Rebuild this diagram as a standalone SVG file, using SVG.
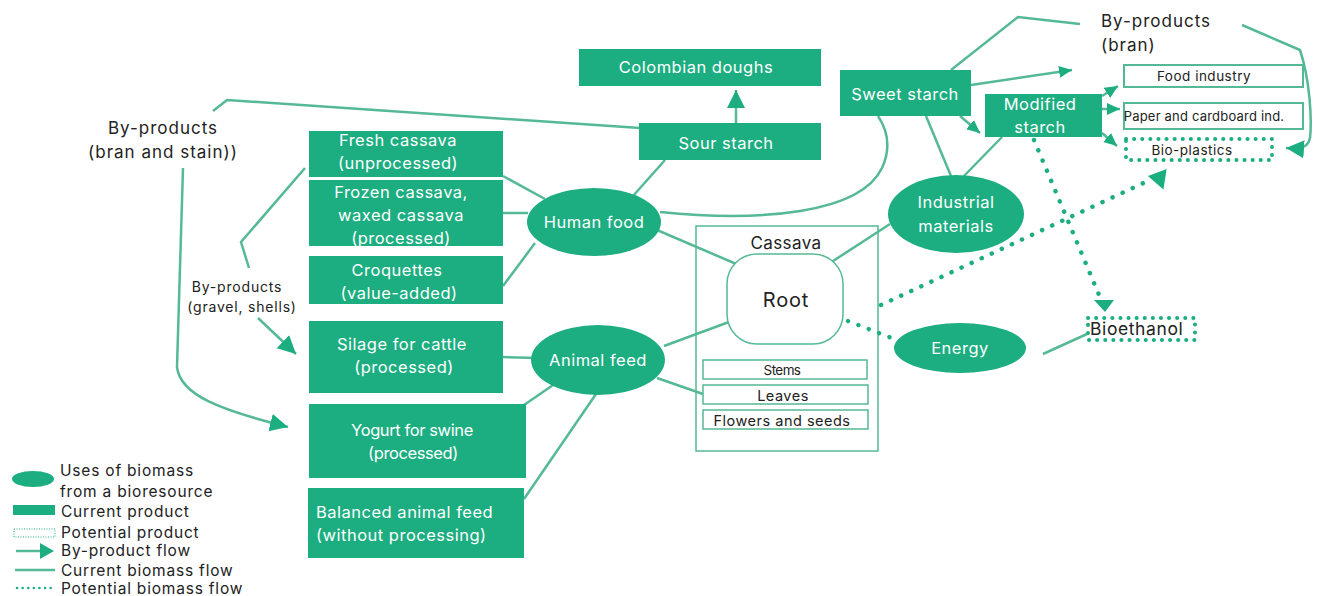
<svg xmlns="http://www.w3.org/2000/svg" width="1319" height="596" viewBox="0 0 1319 596">
  <defs>
    <style>
      text { font-family: Inter, "Liberation Sans", sans-serif; }
      .node { fill: #1cae80; }
      .wt { fill: #ffffff; font-size: 16.5px; text-anchor: middle; dominant-baseline: central; letter-spacing: 0.5px; }
      .bt { fill: #222222; font-size: 17px; dominant-baseline: central; letter-spacing: 1px; }
      .sm { fill: #222222; font-size: 13.5px; text-anchor: middle; dominant-baseline: central; letter-spacing: 0.5px; }
      .lg { fill: #222222; font-size: 15.5px; dominant-baseline: central; letter-spacing: 0.8px; }
      .box { fill: #ffffff; stroke: #55b995; stroke-width: 2; }
      .pot { fill: #ffffff; stroke: #1cae80; stroke-width: 4; stroke-dasharray: 0.1 8; stroke-linecap: round; }
      .flow { fill: none; stroke: #55b995; stroke-width: 2.5; }
      .dot { fill: none; stroke: #1cae80; stroke-width: 4.5; stroke-dasharray: 0.1 11; stroke-linecap: round; }
    </style>
    <marker id="arr" markerUnits="userSpaceOnUse" markerWidth="22" markerHeight="20" refX="18" refY="9" orient="auto">
      <path d="M0,0 L18,9 L0,18 Z" fill="#1cae80"/>
    </marker>
    <marker id="arrS" markerUnits="userSpaceOnUse" markerWidth="16" markerHeight="14" refX="13" refY="6" orient="auto">
      <path d="M0,0 L13,6 L0,12 Z" fill="#1cae80"/>
    </marker>
  </defs>
  <rect width="1319" height="596" fill="#ffffff"/>

  <!-- cassava plant outline (drawn first so flows cross its border) -->
  <rect x="696" y="226" width="182" height="225" fill="none" stroke="#55b995" stroke-width="1.5"/>

  <!-- connectors -->
  <g id="connectors">
    <!-- human food links -->
    <line class="flow" x1="503" y1="176" x2="545" y2="199"/>
    <line class="flow" x1="503" y1="213" x2="528" y2="213"/>
    <line class="flow" x1="503" y1="286" x2="535" y2="243"/>
    <line class="flow" x1="633" y1="196" x2="665" y2="160"/>
    <line class="flow" x1="657" y1="230" x2="741" y2="266"/>
    <path class="flow" d="M660,212 C760,222 860,214 882,168 C892,146 886,128 878,116"/>
    <!-- animal feed links -->
    <line class="flow" x1="503" y1="357" x2="538" y2="358"/>
    <line class="flow" x1="556" y1="383" x2="524" y2="405"/>
    <line class="flow" x1="596" y1="394" x2="524" y2="499"/>
    <line class="flow" x1="664" y1="346" x2="729" y2="322"/>
    <line class="flow" x1="657" y1="378" x2="703" y2="394"/>
    <!-- industrial materials links -->
    <line class="flow" x1="830" y1="263" x2="890" y2="224"/>
    <line class="flow" x1="951" y1="176" x2="926" y2="116"/>
    <line class="flow" x1="963" y1="177" x2="1002" y2="137"/>
    <!-- starch chain -->
    <line class="flow" x1="736" y1="123" x2="736" y2="90" marker-end="url(#arr)"/>
    <line class="flow" x1="960" y1="116" x2="980" y2="133" marker-end="url(#arrS)"/>
    <line class="flow" x1="971" y1="85" x2="1072" y2="70" marker-end="url(#arrS)"/>
    <polyline class="flow" points="951,70 1018,17 1080,24"/>
    <line class="flow" x1="1102" y1="96" x2="1118" y2="86" marker-end="url(#arrS)"/>
    <line class="flow" x1="1102" y1="109" x2="1120" y2="109" marker-end="url(#arrS)"/>
    <line class="flow" x1="1102" y1="133" x2="1117" y2="146" marker-end="url(#arrS)"/>
    <path class="flow" d="M1242,25 L1300,50 C1310,80 1312,120 1310,138 C1308,148 1300,149 1286,148" marker-end="url(#arr)"/>
    <!-- energy -->
    <line class="flow" x1="1043" y1="354" x2="1087" y2="334"/>
    <!-- by-products (bran and stain) -->
    <polyline class="flow" points="213,111 227,100 640,128"/>
    <path class="flow" d="M183,168 L177,367 C180,395 220,410 288,427" marker-end="url(#arr)"/>
    <!-- by-products (gravel, shells) -->
    <polyline class="flow" points="305,168 241,242 249,268"/>
    <line class="flow" x1="258" y1="318" x2="296" y2="354" marker-end="url(#arr)"/>
    <!-- potential flows -->
    <path class="dot" d="M1034,140 L1102,302"/>
    <path d="M1094,300 L1114,300 L1105,312 Z" fill="#1cae80"/>
    <path class="dot" d="M881,305 L1150,180"/>
    <path d="M1150,172 L1170,172 L1160,190 Z" fill="#1cae80" transform="rotate(-20 1160 180)"/>
    <path class="dot" d="M848,321 L910,345"/>
  </g>

  <!-- product nodes -->
  <g id="colombian-doughs"><rect class="node" x="579" y="49" width="242" height="37"/><text class="wt" x="696" y="67">Colombian doughs</text></g>
  <g id="sour-starch"><rect class="node" x="639" y="123" width="182" height="37"/><text class="wt" x="726" y="143">Sour starch</text></g>
  <g id="sweet-starch"><rect class="node" x="840" y="70" width="131" height="46"/><text class="wt" x="905" y="94">Sweet starch</text></g>
  <g id="modified-starch"><rect class="node" x="985" y="94" width="117" height="43"/><text class="wt" x="1040" y="104">Modified</text><text class="wt" x="1040" y="127">starch</text></g>
  <g id="food-industry"><rect class="box" x="1124" y="65" width="179" height="22"/><text class="sm" x="1204" y="76">Food industry</text></g>
  <g id="paper-ind"><rect class="box" x="1124" y="103" width="179" height="26"/><text class="sm" x="1204" y="116" style="font-size:13px;letter-spacing:0.2px">Paper and cardboard ind.</text></g>
  <g id="bio-plastics"><rect class="pot" x="1126" y="139" width="146" height="21"/><text class="sm" x="1192" y="150">Bio-plastics</text></g>
  <g id="fresh-cassava"><rect class="node" x="309" y="131" width="194" height="46"/><text class="wt" x="398" y="140">Fresh cassava</text><text class="wt" x="398" y="163">(unprocessed)</text></g>
  <g id="frozen-cassava"><rect class="node" x="309" y="180" width="194" height="66"/><text class="wt" x="401" y="192">Frozen cassava,</text><text class="wt" x="401" y="215">waxed cassava</text><text class="wt" x="401" y="238">(processed)</text></g>
  <g id="croquettes"><rect class="node" x="309" y="256" width="194" height="48"/><text class="wt" x="397" y="270">Croquettes</text><text class="wt" x="399" y="293">(value-added)</text></g>
  <g id="silage"><rect class="node" x="309" y="321" width="194" height="72"/><text class="wt" x="402" y="344">Silage for cattle</text><text class="wt" x="404" y="367">(processed)</text></g>
  <g id="yogurt"><rect class="node" x="309" y="404" width="217" height="74"/><text class="wt" x="412" y="430" style="letter-spacing:-0.4px">Yogurt for swine</text><text class="wt" x="413" y="453" style="letter-spacing:-0.4px">(processed)</text></g>
  <g id="balanced-feed"><rect class="node" x="308" y="488" width="216" height="70"/><text class="wt" x="316" y="512" style="text-anchor:start">Balanced animal feed</text><text class="wt" x="316" y="535" style="text-anchor:start">(without processing)</text></g>

  <!-- biomass use nodes -->
  <g id="human-food"><ellipse class="node" cx="594" cy="222" rx="67" ry="34"/><text class="wt" x="594" y="222">Human food</text></g>
  <g id="animal-feed"><ellipse class="node" cx="598" cy="360" rx="67" ry="35"/><text class="wt" x="598" y="360">Animal feed</text></g>
  <g id="industrial-materials"><ellipse class="node" cx="956" cy="214" rx="68" ry="39"/><text class="wt" x="956" y="202">Industrial</text><text class="wt" x="956" y="226">materials</text></g>
  <g id="energy"><ellipse class="node" cx="960" cy="348" rx="66" ry="25"/><text class="wt" x="960" y="348">Energy</text></g>

  <!-- cassava plant parts -->
  <g id="cassava">
    <text class="bt" x="786" y="243" style="text-anchor:middle;font-size:17px;letter-spacing:0.4px">Cassava</text>
    <g id="root"><rect class="box" x="727" y="254" width="116" height="90" rx="30" style="stroke-width:1.5"/><text class="bt" x="786" y="300" style="text-anchor:middle;font-size:20px;letter-spacing:0.8px">Root</text></g>
    <g id="stems"><rect class="box" x="703" y="360" width="164" height="19" style="stroke-width:1.5"/><text class="sm" x="782" y="370" style="letter-spacing:-0.6px">Stems</text></g>
    <g id="leaves"><rect class="box" x="703" y="385" width="165" height="19" style="stroke-width:1.5"/><text class="sm" x="783" y="395" style="font-size:14.5px">Leaves</text></g>
    <g id="flowers-seeds"><rect class="box" x="703" y="410" width="165" height="19" style="stroke-width:1.5"/><text class="sm" x="782" y="420" style="font-size:14.5px">Flowers and seeds</text></g>
  </g>

  <g id="bioethanol"><rect class="pot" x="1088" y="318" width="107" height="22"/><text class="bt" x="1090" y="328" style="font-size:17.5px;letter-spacing:0.6px">Bioethanol</text></g>

  <!-- free labels -->
  <g id="byproducts-bran-stain"><text class="bt" x="163" y="128" style="text-anchor:middle">By-products</text><text class="bt" x="163" y="152" style="text-anchor:middle">(bran and stain))</text></g>
  <g id="byproducts-gravel"><text class="bt" x="237" y="286" style="text-anchor:middle;font-size:14px;letter-spacing:0.8px">By-products</text><text class="bt" x="242" y="306" style="text-anchor:middle;font-size:14px;letter-spacing:0.8px">(gravel, shells)</text></g>
  <g id="byproducts-bran"><text class="bt" x="1101" y="21">By-products</text><text class="bt" x="1101" y="45">(bran)</text></g>

  <!-- legend -->
  <g id="legend">
    <ellipse class="node" cx="33" cy="479" rx="21" ry="8"/>
    <text class="lg" x="60" y="470">Uses of biomass</text>
    <text class="lg" x="60" y="491">from a bioresource</text>
    <rect class="node" x="13" y="505" width="42" height="10"/>
    <text class="lg" x="61" y="511">Current product</text>
    <rect x="14" y="529" width="41" height="8" fill="none" stroke="#1cae80" stroke-width="1" stroke-dasharray="1 1.5"/>
    <text class="lg" x="61" y="532">Potential product</text>
    <line x1="16" y1="551" x2="40" y2="551" stroke="#55b995" stroke-width="2.5"/>
    <path d="M40,543 L54,551 L40,559 Z" fill="#1cae80"/>
    <text class="lg" x="61" y="550">By-product flow</text>
    <line x1="15" y1="570" x2="55" y2="570" stroke="#55b995" stroke-width="2.5"/>
    <text class="lg" x="61" y="570">Current biomass flow</text>
    <line x1="17" y1="588" x2="55" y2="588" stroke="#1cae80" stroke-width="2.5" stroke-dasharray="0.1 5.5" stroke-linecap="round"/>
    <text class="lg" x="61" y="588">Potential biomass flow</text>
  </g>
</svg>
